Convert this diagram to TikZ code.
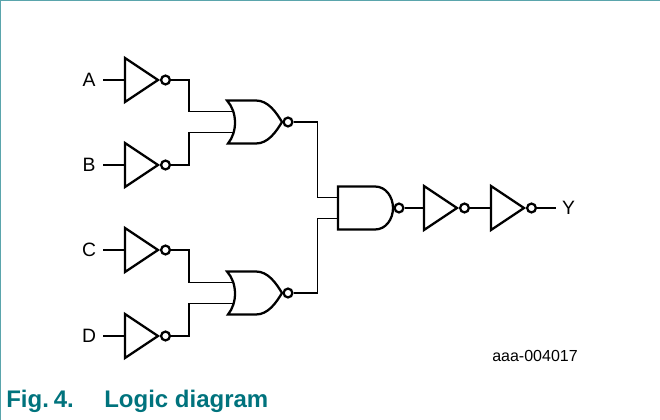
\documentclass[tikz,border=0pt]{standalone}
\usepackage{fontspec}
\setmainfont{Liberation Sans}
\definecolor{nxpteal}{RGB}{0,115,125}
\definecolor{nxpframe}{RGB}{90,165,172}
\begin{document}
\begin{tikzpicture}[
		x=0.75pt,
		y=-0.75pt,
		wire/.style={line width=0.9pt},
		gateline/.style={draw,line width=1.7pt,line join=miter},
		bubble/.style={circle,gateline,inner sep=0pt,minimum size=6.6pt,fill=white},
		sig/.style={font=\fontsize{14.5}{16}\selectfont,inner sep=0pt,minimum width=21pt,minimum height=14pt},
		capt/.style={font=\fontsize{18}{20}\selectfont\bfseries,text=nxpteal,inner sep=0pt,anchor=base west},
		invgate/.pic={
			\draw[gateline] (-16.5,-22) -- (16.5,0) -- (-16.5,22) -- cycle;
			\coordinate (-in) at (-16.5,0);
			\node[bubble] (-out) at (24,0) {};
		},
		norgate/.pic={
			\draw[gateline] (-31,-21.5) -- (-2,-21.5) .. controls (10,-21.5) and (18,-10) .. (24,0)
				.. controls (18,10) and (10,21.5) .. (-2,21.5) -- (-30,21.5)
				.. controls (-20.5,10) and (-20.5,-10) .. (-31,-21.5) -- cycle;
			\coordinate (-ina) at (-24,-10.5);
			\coordinate (-inb) at (-24,10.5);
			\node[bubble] (-out) at (30,0) {};
		},
		nandgate/.pic={
			\draw[gateline] (-30,-21.5) -- (7,-21.5) .. controls (18,-21.5) and (25,-11) .. (25,0)
				.. controls (25,11) and (18,21.5) .. (7,21.5) -- (-30,21.5) -- cycle;
			\coordinate (-ina) at (-30,-10.5);
			\coordinate (-inb) at (-30,10.5);
			\node[bubble] (-out) at (31,0) {};
		},
	]
		\useasboundingbox (0,0) rectangle (660,420);
		\draw[nxpframe,line width=1.2pt] (0,420) -- (0,0) -- (660,0);

		% inverters and inputs
		\foreach \n/\l/\h in {a/A/80, b/B/165, c/C/250, d/D/336}{
			\node[sig] (\n) at (89,\h) {\l};
			\pic (inv\n) at (141.5,\h) {invgate};
			\draw[wire] (\n) -- (inv\n-in);
		}

		\pic (norab) at (258,122) {norgate};
		\pic (norcd) at (258,293) {norgate};
		\pic (nandall) at (368,208) {nandgate};
		\pic (invy) at (440.5,208) {invgate};
		\pic (invz) at (507.5,208) {invgate};
		\node[sig,minimum width=18pt] (y) at (568.5,208) {Y};

		\coordinate (busab) at (189,122);
		\coordinate (buscd) at (189,293);
		\coordinate (busout) at (317.5,208);

		\draw[wire] (inva-out) -- (inva-out -| busab) |- (norab-ina);
		\draw[wire] (invb-out) -- (invb-out -| busab) |- (norab-inb);
		\draw[wire] (invc-out) -- (invc-out -| buscd) |- (norcd-ina);
		\draw[wire] (invd-out) -- (invd-out -| buscd) |- (norcd-inb);
		\draw[wire] (norab-out) -- (norab-out -| busout) |- (nandall-ina);
		\draw[wire] (norcd-out) -- (norcd-out -| busout) |- (nandall-inb);
		\draw[wire] (nandall-out) -- (invy-in);
		\draw[wire] (invy-out) -- (invz-in);
		\draw[wire] (invz-out) -- (y);

		\node[font=\fontsize{12}{14}\selectfont,inner sep=0pt] (code) at (535,356) {aaa-004017};
		\node[capt] (fig) at (6,407) {Fig.\hspace{-3pt} 4.};
		\node[capt] (title) at (104,407) {Logic diagram};
	\end{tikzpicture}
\end{document}
